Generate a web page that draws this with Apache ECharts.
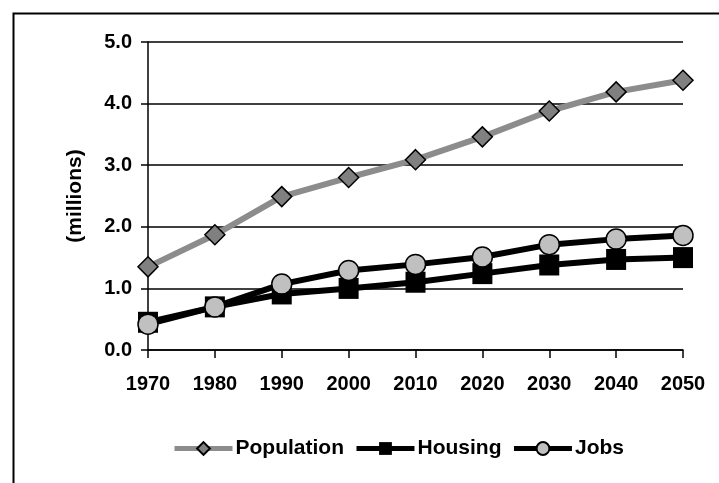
<!DOCTYPE html>
<html>
<head>
<meta charset="utf-8">
<script src="https://cdn.jsdelivr.net/npm/echarts@6/dist/echarts.min.js"></script>
<style>
html,body{margin:0;padding:0;background:#fff;}
#chart{width:719px;height:483px;}
</style>
</head>
<body>
<div id="chart"></div>
<script>
var years = ['1970','1980','1990','2000','2010','2020','2030','2040','2050'];
var population = [1.35, 1.87, 2.49, 2.80, 3.09, 3.46, 3.88, 4.19, 4.38];
var housing = [0.45, 0.70, 0.91, 1.00, 1.10, 1.24, 1.38, 1.47, 1.50];
var jobs = [0.42, 0.70, 1.07, 1.29, 1.39, 1.51, 1.71, 1.80, 1.86];
var yTicks = [0, 1, 2, 3, 4, 5];

var FONT = '"Liberation Sans", Arial, sans-serif';
var chart = echarts.init(document.getElementById('chart'));
chart.setOption({
  animation: false,
  backgroundColor: '#fff',
  graphic: [{
    type: 'rect', left: 11, top: 11, z: -1,
    shape: {width: 800, height: 800},
    style: {fill: 'none', stroke: '#000', lineWidth: 2}
  }],
  grid: {left: 148, right: 36, top: 42, bottom: 133, containLabel: false},
  legend: {
    left: 172, top: 438, padding: 0,
    itemWidth: 58, itemHeight: 16, itemGap: 10,
    lineStyle: {width: 5},
    textStyle: {fontFamily: FONT, fontWeight: 'bold', fontSize: 21, color: '#000', padding: [0, 0, 0, -2]},
    data: ['Population', 'Housing', 'Jobs']
  },
  xAxis: {
    type: 'category', data: years, boundaryGap: false,
    axisLine: {lineStyle: {color: '#000', width: 1.5}},
    axisTick: {show: true, length: 8, lineStyle: {color: '#000', width: 1.5}},
    axisLabel: {margin: 24, fontFamily: FONT, fontWeight: 'bold', fontSize: 20, color: '#000'}
  },
  yAxis: {
    type: 'value', min: yTicks[0], max: yTicks[yTicks.length - 1], interval: 1,
    name: '(millions)', nameLocation: 'middle', nameGap: 62, nameRotate: 90,
    nameTextStyle: {fontFamily: FONT, fontWeight: 'bold', fontSize: 21, color: '#000'},
    axisLine: {show: true, lineStyle: {color: '#000', width: 1.5}},
    axisTick: {show: true, length: 7, lineStyle: {color: '#000', width: 1.5}},
    splitLine: {show: true, lineStyle: {color: '#000', width: 1.5}},
    axisLabel: {margin: 16, fontFamily: FONT, fontWeight: 'bold', fontSize: 20, color: '#000',
      formatter: function (v) { return v.toFixed(1); }}
  },
  series: [
    {
      name: 'Population', type: 'line', data: population,
      symbol: 'diamond', symbolSize: [20, 20],
      lineStyle: {color: '#8c8c8c', width: 6},
      itemStyle: {color: '#808080', borderColor: '#000', borderWidth: 1.5}
    },
    {
      name: 'Housing', type: 'line', data: housing,
      symbol: 'rect', symbolSize: [20, 21],
      lineStyle: {color: '#000', width: 6},
      itemStyle: {color: '#000', borderColor: '#000', borderWidth: 0}
    },
    {
      name: 'Jobs', type: 'line', data: jobs,
      symbol: 'circle', symbolSize: 20,
      lineStyle: {color: '#000', width: 6},
      itemStyle: {color: '#c0c0c0', borderColor: '#000', borderWidth: 1.5}
    }
  ]
});
</script>
</body>
</html>
